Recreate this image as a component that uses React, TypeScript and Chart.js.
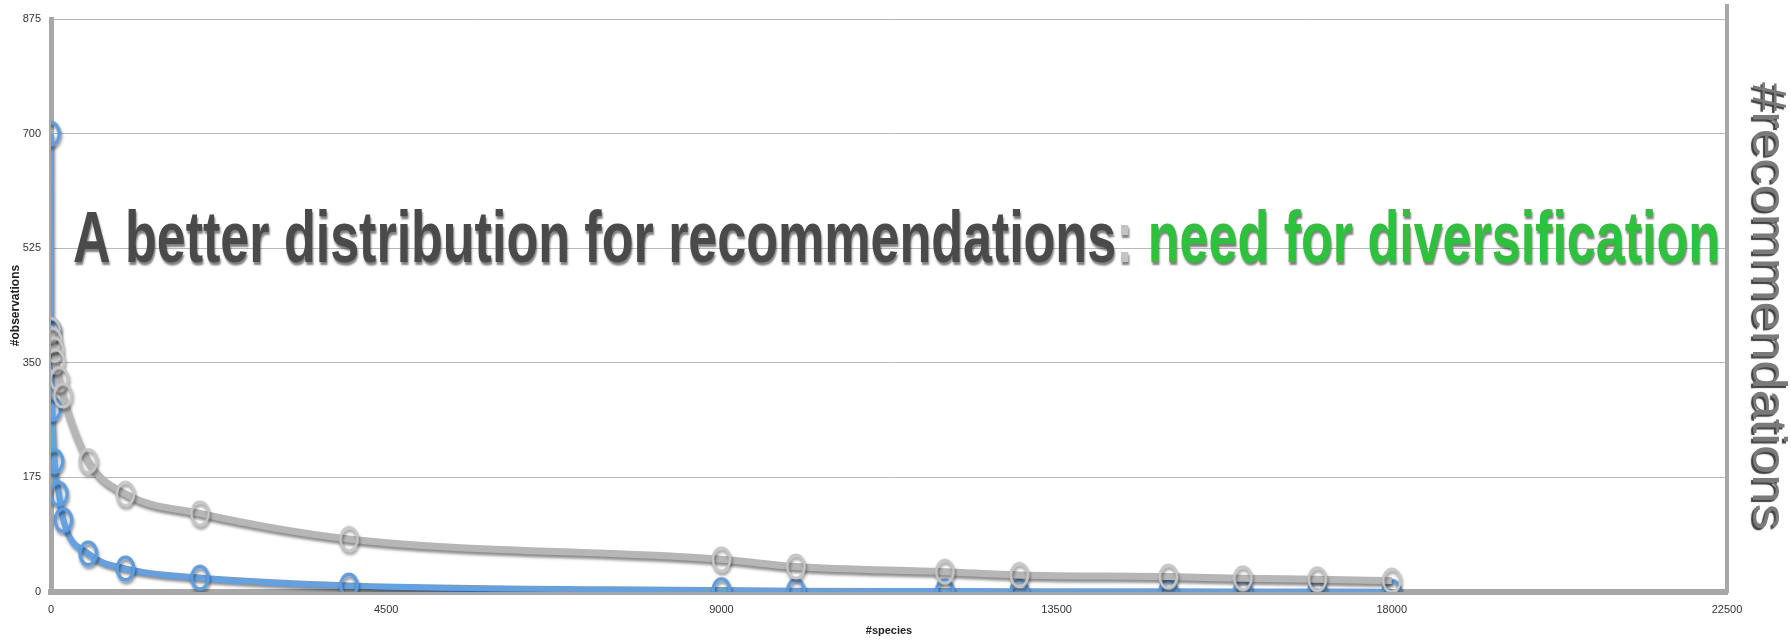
import React, { useEffect, useRef } from "react";
import { Chart, registerables } from "chart.js";

Chart.register(...registerables);

// ---- data ----
const blueX = [0, 2, 15, 45, 105, 165, 500, 1000, 2000, 4000, 9000, 10000, 12000, 13000, 15000, 16000, 17000, 18000];
const blueY = [700, 400, 280, 200, 150, 110, 59, 36, 22, 10, 3, 2, 1.5, 1.2, 1, 0.8, 0.6, 0.5];
const grayX = [1, 20, 45, 60, 110, 160, 500, 1000, 2000, 4000, 9000, 10000, 12000, 13000, 15000, 16000, 17000, 18000];
const grayY = [400, 385, 370, 352, 325, 300, 200, 150, 120, 81, 50, 39, 31, 26, 23.5, 21, 19.5, 17.5];

const xMin = 0;
const xMax = 22500;
const xStep = 4500;
const yMin = 0;
const yMax = 875;
const yStep = 175;

const xAxisTitle = "#species";
const yAxisTitle = "#observations";
const rightAxisTitle = "#recommendations";
const titleParts = [
  { text: "A better distribution for recommendations", color: "#4a4a4a" },
  { text: ":", color: "#c4c4c4" },
  { text: " need for diversification", color: "#2dc23b" },
];

function makeRing(w: number, h: number, color: string, lw: number) {
  const c = document.createElement("canvas");
  c.width = w;
  c.height = h;
  const g = c.getContext("2d")!;
  g.strokeStyle = color;
  g.lineWidth = lw;
  g.beginPath();
  g.ellipse(w / 2, h / 2, w / 2 - lw / 2 - 0.5, h / 2 - lw / 2 - 0.5, 0, 0, Math.PI * 2);
  g.stroke();
  return c;
}

export default function App() {
  const ref = useRef<HTMLCanvasElement | null>(null);

  useEffect(() => {
    if (!ref.current) return;
    const blueRing = makeRing(21, 27, "#5b9de2", 3.4);
    const grayRing = makeRing(21, 27, "#c6c6c6", 2.8);

    const shadowPlugin = {
      id: "dsShadow",
      beforeDatasetDraw(chart: any) {
        const ctx = chart.ctx;
        ctx.save();
        ctx.shadowColor = "rgba(0,0,0,0.45)";
        ctx.shadowBlur = 3;
        ctx.shadowOffsetX = 1;
        ctx.shadowOffsetY = 3;
      },
      afterDatasetDraw(chart: any) {
        chart.ctx.restore();
      },
    };

    const textPlugin = {
      id: "bigTexts",
      beforeDatasetsDraw(chart: any) {
        const ctx = chart.ctx;
        ctx.save();
        ctx.font = 'bold 72px "Liberation Sans", Arial, sans-serif';
        ctx.textBaseline = "alphabetic";
        ctx.textAlign = "left";
        const widths = titleParts.map((p) => ctx.measureText(p.text).width);
        const total = widths.reduce((a, b) => a + b, 0);
        const left = 73;
        const right = 1720;
        const sx = (right - left) / total;
        ctx.translate(left, 262);
        ctx.scale(sx, 1);
        ctx.shadowColor = "rgba(0,0,0,0.5)";
        ctx.shadowBlur = 2;
        ctx.shadowOffsetX = 1;
        ctx.shadowOffsetY = 3;
        let x = 0;
        titleParts.forEach((p, i) => {
          ctx.fillStyle = p.color;
          ctx.fillText(p.text, x, 0);
          x += widths[i];
        });
        ctx.restore();
      },
      afterDraw(chart: any) {
        const ctx = chart.ctx;
        const area = chart.chartArea;
        // right axis line extends a little above the plot
        ctx.save();
        ctx.fillStyle = "#a8a8a8";
        ctx.fillRect(area.right - 2, 4, 4, area.top - 4);
        ctx.restore();

        ctx.save();
        ctx.translate(1753, 306);
        ctx.rotate(Math.PI / 2);
        ctx.font = '52px "Liberation Sans", Arial, sans-serif';
        const w = ctx.measureText(rightAxisTitle).width;
        ctx.scale(448 / w, 0.92);
        ctx.textAlign = "center";
        ctx.textBaseline = "alphabetic";
        ctx.shadowColor = "rgba(30,30,30,0.85)";
        ctx.shadowBlur = 1;
        ctx.shadowOffsetX = -2;
        ctx.shadowOffsetY = 2;
        ctx.fillStyle = "#7a7a7a";
        ctx.fillText(rightAxisTitle, 0, 0);
        ctx.restore();
      },
    };

    const tickFont = { family: '"Liberation Sans Narrow", "Liberation Sans", Arial', size: 11 };

    const chart = new Chart(ref.current, {
      type: "line",
      data: {
        datasets: [
          {
            label: "recommendations",
            data: grayX.map((x, i) => ({ x, y: grayY[i] })),
            borderColor: "#b6b6b6",
            borderWidth: 7,
            cubicInterpolationMode: "monotone",
            pointStyle: grayRing as any,
            pointRadius: 10,
            fill: false,
          },
          {
            label: "observations",
            data: blueX.map((x, i) => ({ x, y: blueY[i] })),
            borderColor: "#62a2e4",
            borderWidth: 6,
            cubicInterpolationMode: "monotone",
            pointStyle: blueRing as any,
            pointRadius: 10,
            fill: false,
          },
        ],
      },
      options: {
        animation: false,
        responsive: false,
        layout: { padding: { top: 19, left: 0, right: 0, bottom: 0 } },
        plugins: {
          legend: { display: false },
          tooltip: { enabled: false },
          title: { display: false },
        },
        scales: {
          x: {
            type: "linear",
            min: xMin,
            max: xMax,
            grid: { display: false, drawTicks: false },
            border: { display: true, color: "#a8a8a8", width: 6 },
            ticks: {
              stepSize: xStep,
              padding: 11,
              maxRotation: 0,
              color: "#333",
              font: tickFont,
              callback: (v: any) => String(v),
            },
            title: {
              display: true,
              text: xAxisTitle,
              color: "#222",
              font: { ...tickFont, weight: "bold" },
              padding: { top: 0, bottom: 2 },
            },
            afterFit: (s: any) => {
              s.height = 48;
            },
          },
          y: {
            type: "linear",
            min: yMin,
            max: yMax,
            grid: { color: "#b9b9b9", lineWidth: 1, drawTicks: false },
            border: { display: true, color: "#a8a8a8", width: 5 },
            ticks: {
              stepSize: yStep,
              padding: 10,
              color: "#333",
              font: tickFont,
              callback: (v: any) => String(v),
            },
            title: {
              display: true,
              text: yAxisTitle,
              color: "#222",
              font: { family: '"Liberation Sans", Arial', size: 12, weight: "bold" },
              padding: { top: 8, bottom: 0 },
            },
            afterFit: (s: any) => {
              s.width = 51;
            },
          },
          y2: {
            type: "linear",
            position: "right",
            min: yMin,
            max: yMax,
            grid: { display: false, drawTicks: false },
            border: { display: true, color: "#a8a8a8", width: 4 },
            ticks: { display: false },
            afterFit: (s: any) => {
              s.width = 64;
            },
          },
        },
      } as any,
      plugins: [shadowPlugin, textPlugin],
    });
    return () => chart.destroy();
  }, []);

  return (
    <div style={{ position: "fixed", left: 0, top: 0, width: 1791, height: 640, background: "#fff" }}>
      <canvas ref={ref} width={1791} height={640} style={{ display: "block" }} />
    </div>
  );
}
